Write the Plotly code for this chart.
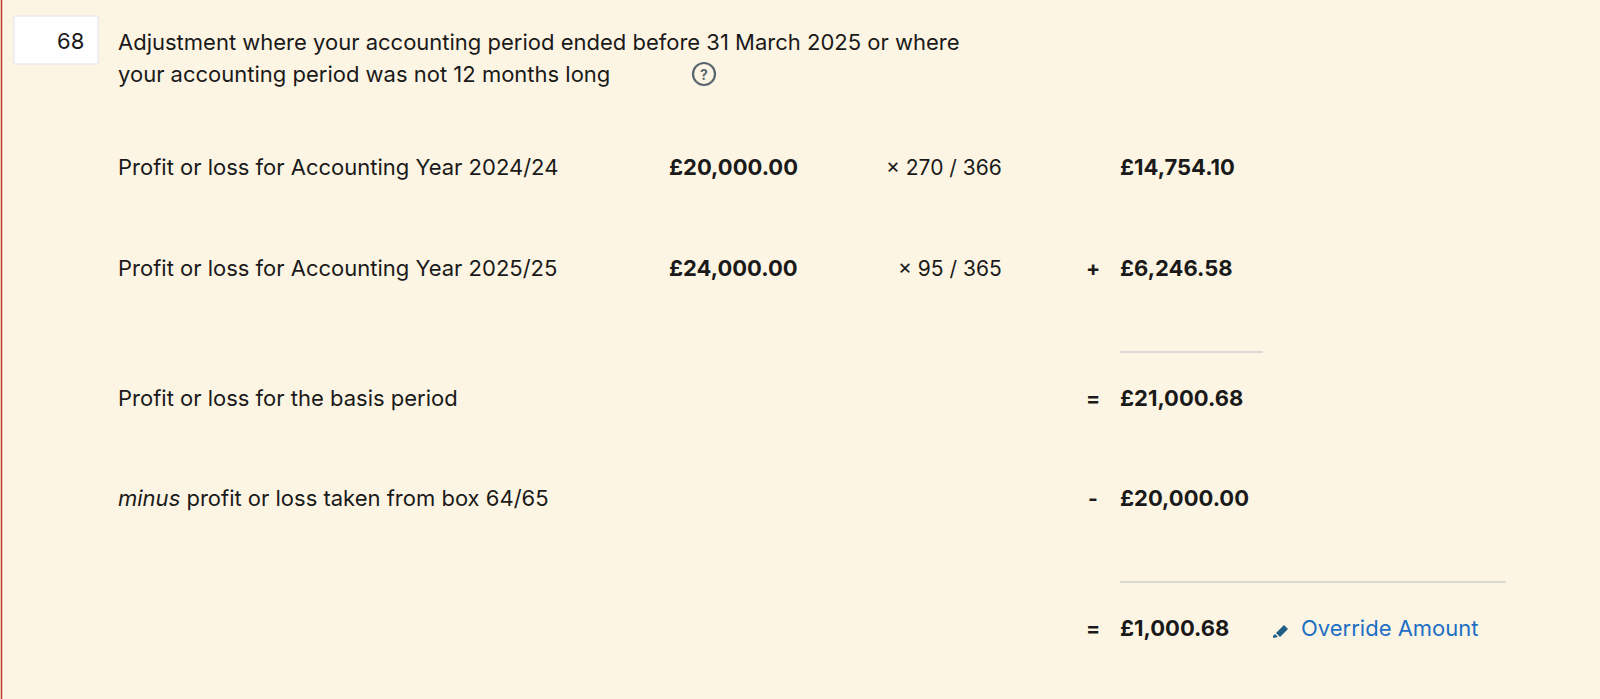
import plotly.graph_objects as go

box_number = "68"
heading = ["Adjustment where your accounting period ended before 31 March 2025 or where",
           "your accounting period was not 12 months long"]
row_labels = ["Profit or loss for Accounting Year 2024/24",
              "Profit or loss for Accounting Year 2025/25",
              "Profit or loss for the basis period",
              "<i>minus</i> profit or loss taken from box 64/65",
              ""]
row_amounts = ["£20,000.00", "£24,000.00", "", "", ""]
row_fractions = ["× 270 / 366", "× 95 / 365", "", "", ""]
row_ops = ["", "+", "=", "-", "="]
row_results = ["£14,754.10", "£6,246.58", "£21,000.68", "£20,000.00", "£1,000.68"]
override_text = "Override Amount"

W, H = 1600, 699
row_y = [167, 268, 398, 498, 628]
FONT = "Inter"
FS = 22
INK = "#1a1a1a"

fig = go.Figure()
ann = []
shapes = []

# background bits
shapes.append(dict(type="line", x0=1.5, x1=1.5, y0=0, y1=H, line=dict(color="#c0392b", width=1.5)))
shapes.append(dict(type="rect", x0=14, x1=98, y0=16, y1=64, fillcolor="white",
                   line=dict(color="#dde3ea", width=1)))
ann.append(dict(x=86, y=41, text=box_number, xanchor="right", font=dict(size=FS, color=INK)))
for i, line in enumerate(heading):
    ann.append(dict(x=116, y=42 + i * 32, text=line, xanchor="left", font=dict(size=FS, color=INK)))
# help icon
shapes.append(dict(type="circle", x0=693, x1=715, y0=63, y1=85, line=dict(color="#5b6770", width=2.2)))
ann.append(dict(x=704, y=74, text="<b>?</b>", font=dict(size=14, color="#5b6770")))

for i, y in enumerate(row_y):
    if row_labels[i]:
        ann.append(dict(x=116, y=y, text=row_labels[i], xanchor="left", font=dict(size=FS, color=INK)))
    if row_amounts[i]:
        ann.append(dict(x=667, y=y, text="<b>" + row_amounts[i] + "</b>", xanchor="left",
                        font=dict(size=FS, color=INK)))
    if row_fractions[i]:
        ann.append(dict(x=1004, y=y, text=row_fractions[i], xanchor="right", font=dict(size=FS - 1, color=INK)))
    if row_ops[i]:
        ann.append(dict(x=1093, y=y, text="<b>" + row_ops[i] + "</b>", font=dict(size=FS - 1, color=INK)))
    ann.append(dict(x=1118, y=y, text="<b>" + row_results[i] + "</b>", xanchor="left",
                    font=dict(size=FS, color=INK)))

shapes.append(dict(type="line", x0=1120, x1=1263, y0=352, y1=352, line=dict(color="#cfcfcf", width=1.5)))
shapes.append(dict(type="line", x0=1120, x1=1506, y0=582, y1=582, line=dict(color="#cfcfcf", width=1.5)))

# pencil icon
shapes.append(dict(type="path", path="M 1276 633 L 1284 625 L 1288 629 L 1280 637 Z",
                   fillcolor="#1f5f86", line=dict(width=0)))
shapes.append(dict(type="path", path="M 1273 636 L 1275 634 L 1278 637 L 1273 638 Z",
                   fillcolor="#1f5f86", line=dict(width=0)))
ann.append(dict(x=1299, y=628, text=override_text, xanchor="left", font=dict(size=FS, color="#1d6fc4")))

for a in ann:
    a.update(xref="x", yref="y", showarrow=False, yanchor="middle")
    a["font"]["family"] = FONT

fig.update_layout(
    width=W, height=H, margin=dict(l=0, r=0, t=0, b=0),
    paper_bgcolor="#fdf5e3", plot_bgcolor="#fdf5e3",
    xaxis=dict(range=[0, W], visible=False, fixedrange=True),
    yaxis=dict(range=[H, 0], visible=False, fixedrange=True),
    annotations=ann, shapes=shapes, showlegend=False,
)
fig.write_html("out.html", config={"displayModeBar": False},
               post_script="document.body.style.margin='0';document.body.style.overflow='hidden';")
